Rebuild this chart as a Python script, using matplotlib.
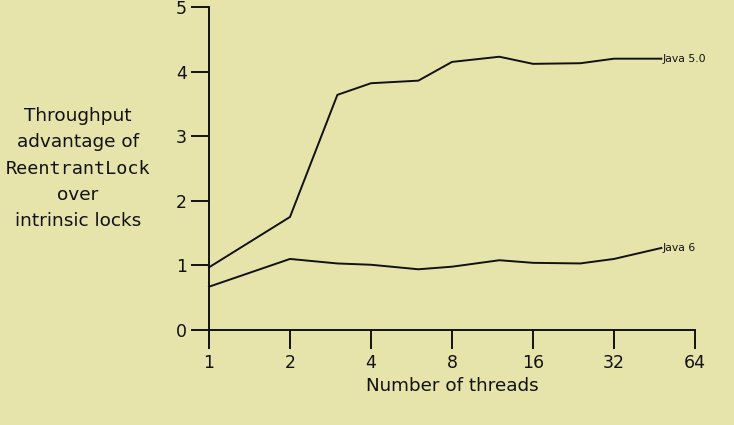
import matplotlib
matplotlib.use("Agg")
import matplotlib.pyplot as plt

# thread counts and throughput ratio (ReentrantLock / intrinsic)
threads = [1, 2, 3, 4, 6, 8, 12, 16, 24, 32, 48]
java5 = [0.97, 1.75, 3.64, 3.82, 3.86, 4.15, 4.23, 4.12, 4.13, 4.20, 4.20]
java6 = [0.67, 1.10, 1.03, 1.01, 0.94, 0.98, 1.08, 1.04, 1.03, 1.10, 1.27]
xticks = [1, 2, 4, 8, 16, 32, 64]
yticks = [0, 1, 2, 3, 4, 5]

BG = "#e6e4ab"
INK = "#111111"

fig = plt.figure(figsize=(7.34, 4.25), dpi=100, facecolor=BG)
ax = fig.add_axes([209 / 734, 1 - 330 / 425, 486 / 734, 323 / 425])
ax.set_facecolor(BG)

ax.plot(threads, java5, color=INK, lw=1.4, clip_on=False)
ax.plot(threads, java6, color=INK, lw=1.4, clip_on=False)
ax.annotate("Java 5.0", (threads[-1], java5[-1]), xytext=(1, 0),
            textcoords="offset points", va="center", ha="left",
            fontsize=7.8, color=INK, annotation_clip=False)
ax.annotate("Java 6", (threads[-1], java6[-1]), xytext=(1, 0),
            textcoords="offset points", va="center", ha="left",
            fontsize=7.8, color=INK, annotation_clip=False)

ax.set_xscale("log", base=2)
ax.set_xlim(1, 64)
ax.set_ylim(0, 5)
ax.set_xticks(xticks)
ax.set_xticklabels([str(t) for t in xticks])
ax.minorticks_off()
ax.set_yticks(yticks)

for side in ("top", "right"):
    ax.spines[side].set_visible(False)
for side in ("left", "bottom"):
    ax.spines[side].set_linewidth(1.4)
    ax.spines[side].set_color(INK)

ax.tick_params(axis="x", direction="out", length=14, width=1.4, pad=3,
               labelsize=12.5, colors=INK)
ax.tick_params(axis="y", direction="out", length=13, width=1.4, pad=3,
               labelsize=12.5, colors=INK)

ax.set_xlabel("Number of threads", fontsize=13.2, color=INK, labelpad=4)

# multi-line y label, with the class name in monospace
ylab = ["Throughput", "advantage of", "ReentrantLock", "over", "intrinsic locks"]
for i, line in enumerate(ylab):
    fam = "DejaVu Sans Mono" if line == "ReentrantLock" else "DejaVu Sans"
    fig.text(78 / 734, 1 - (116 + 26.3 * i) / 425, line, ha="center",
             va="center", fontsize=13.3, family=fam, color=INK)

fig.savefig("out.png", dpi=100, facecolor=BG)
